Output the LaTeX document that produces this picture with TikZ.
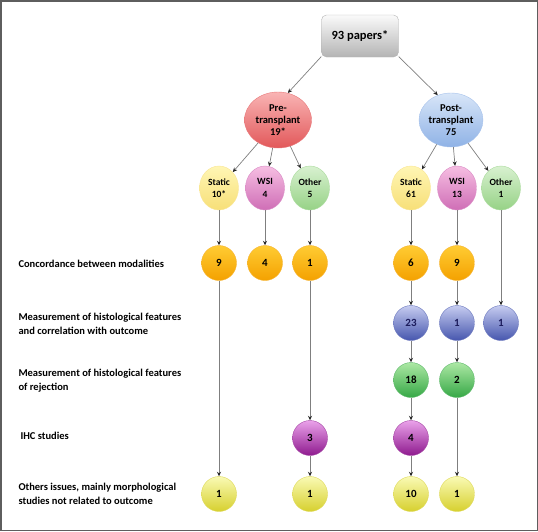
\documentclass[tikz,border=0pt]{standalone}
\usepackage{fontspec}
\setmainfont{Carlito}
\usepackage{tikz}
\usetikzlibrary{arrows.meta,shapes.geometric}
\definecolor{linegray}{HTML}{7F7F7F}
\definecolor{tipdark}{HTML}{262626}
\definecolor{framegray}{HTML}{5E5E5E}
\definecolor{boxtop}{HTML}{FAFAFA}
\definecolor{boxbot}{HTML}{B4B4B4}
\definecolor{pretop}{HTML}{F9B4B4}
\definecolor{prebot}{HTML}{E2585A}
\definecolor{posttop}{HTML}{D8E6F8}
\definecolor{postbot}{HTML}{8FB2E6}
\definecolor{sttop}{HTML}{FFF6B4}
\definecolor{stbot}{HTML}{F7DF78}
\definecolor{wsitop}{HTML}{F6BEE2}
\definecolor{wsibot}{HTML}{CF6EB6}
\definecolor{othtop}{HTML}{D8F1D0}
\definecolor{othbot}{HTML}{96D286}
\definecolor{contop}{HTML}{FFCC33}
\definecolor{conbot}{HTML}{F4A100}
\definecolor{meatop}{HTML}{C6CCF0}
\definecolor{meabot}{HTML}{4656AE}
\definecolor{rejtop}{HTML}{ACE8A4}
\definecolor{rejbot}{HTML}{36A846}
\definecolor{ihctop}{HTML}{EAA2EA}
\definecolor{ihcbot}{HTML}{8E1A8E}
\definecolor{restop}{HTML}{FAFAB4}
\definecolor{resbot}{HTML}{D6D02E}
\definecolor{navy}{HTML}{1C1C5C}
\tikzset{
  arr/.style={draw=linegray, line width=0.7pt, -{Stealth[length=4.5pt,width=4pt,color=tipdark]}},
  frame/.style={draw=framegray, line width=1.5pt},
  paperbox/.style={rectangle, rounded corners=5pt, draw=boxbot, minimum width=77pt, minimum height=42pt,
    top color=boxtop, bottom color=boxbot, font=\fontsize{12.5}{14}\selectfont\bfseries},
  group/.style={ellipse, inner sep=0pt, minimum width=67pt, minimum height=56pt, align=center,
    font=\fontsize{10.5}{12}\selectfont\bfseries},
  kind/.style={ellipse, inner sep=0pt, minimum width=39pt, minimum height=44pt, align=center,
    font=\fontsize{9.5}{12.5}\selectfont\bfseries},
  num/.style={circle, inner sep=0pt, minimum size=35pt, font=\fontsize{11}{12}\selectfont\bfseries},
  lab/.style={anchor=west, align=left, font=\fontsize{10.5}{14}\selectfont\bfseries},
  shd/.style 2 args={top color=#1, bottom color=#2, draw=#2!80!white, line width=0.4pt},
}
\begin{document}
\begin{tikzpicture}[x=1pt,y=-1pt]
  \useasboundingbox (0,0) rectangle (538,531);
  \draw[frame] (0.75,0.75) rectangle (537.25,530.25);

  % top of the tree
  \node[paperbox] (paper) at (360,36) {93 papers*};
  \node[group,shd={pretop}{prebot}] (pre) at (278,120) {Pre-\\transplant\\19*};
  \node[group,shd={posttop}{postbot},minimum width=64pt,minimum height=54pt] (post) at (451,120) {Post-\\transplant\\75};

  \node[kind,shd={sttop}{stbot}] (preSt) at (219,188) {Static\\10*};
  \node[kind,shd={wsitop}{wsibot}] (preWsi) at (265,188) {WSI\\4};
  \node[kind,shd={othtop}{othbot}] (preOth) at (310,188) {Other\\5};
  \node[kind,shd={sttop}{stbot}] (postSt) at (411,188) {Static\\61};
  \node[kind,shd={wsitop}{wsibot}] (postWsi) at (457,188) {WSI\\13};
  \node[kind,shd={othtop}{othbot}] (postOth) at (501,188) {Other\\1};

  % row labels
  \node[lab] (labCon) at (15,264) {Concordance between modalities};
  \node[lab] (labMea) at (15,324) {Measurement of histological features\\and correlation with outcome};
  \node[lab] (labRej) at (15,381) {Measurement of histological features\\of rejection};
  \node[lab] (labIhc) at (17,436) {IHC studies};
  \node[lab] (labRes) at (15,494) {Others issues, mainly morphological\\studies not related to outcome};

  % counts
  \node[num,shd={contop}{conbot}] (preStCon) at (219,263) {9};
  \node[num,shd={contop}{conbot}] (preWsiCon) at (265,263) {4};
  \node[num,shd={contop}{conbot}] (preOthCon) at (310,263) {1};
  \node[num,shd={contop}{conbot}] (postStCon) at (411,263) {6};
  \node[num,shd={contop}{conbot}] (postWsiCon) at (457,263) {9};

  \node[num,shd={meatop}{meabot},text=navy] (postStMea) at (411,323) {23};
  \node[num,shd={meatop}{meabot},text=navy] (postWsiMea) at (457,323) {1};
  \node[num,shd={meatop}{meabot},text=navy] (postOthMea) at (501,323) {1};

  \node[num,shd={rejtop}{rejbot}] (postStRej) at (411,380) {18};
  \node[num,shd={rejtop}{rejbot}] (postWsiRej) at (457,380) {2};

  \node[num,shd={ihctop}{ihcbot}] (preOthIhc) at (310,438) {3};
  \node[num,shd={ihctop}{ihcbot}] (postStIhc) at (411,438) {4};

  \node[num,shd={restop}{resbot}] (preStRes) at (219,494) {1};
  \node[num,shd={restop}{resbot}] (preOthRes) at (310,494) {1};
  \node[num,shd={restop}{resbot}] (postStRes) at (411,494) {10};
  \node[num,shd={restop}{resbot}] (postWsiRes) at (457,494) {1};

  % connectors
  \draw[arr] (paper.-152) -- (pre.70);
  \draw[arr] (paper.-28) -- (post.118);
  \foreach \a/\b in {pre/preSt, pre/preWsi, pre/preOth, post/postSt, post/postWsi, post/postOth,
      preSt/preStCon, preStCon/preStRes, preWsi/preWsiCon,
      preOth/preOthCon, preOthCon/preOthIhc, preOthIhc/preOthRes,
      postSt/postStCon, postStCon/postStMea, postStMea/postStRej, postStRej/postStIhc, postStIhc/postStRes,
      postWsi/postWsiCon, postWsiCon/postWsiMea, postWsiMea/postWsiRej, postWsiRej/postWsiRes,
      postOth/postOthMea}
    \draw[arr] (\a) -- (\b);
\end{tikzpicture}
\end{document}
